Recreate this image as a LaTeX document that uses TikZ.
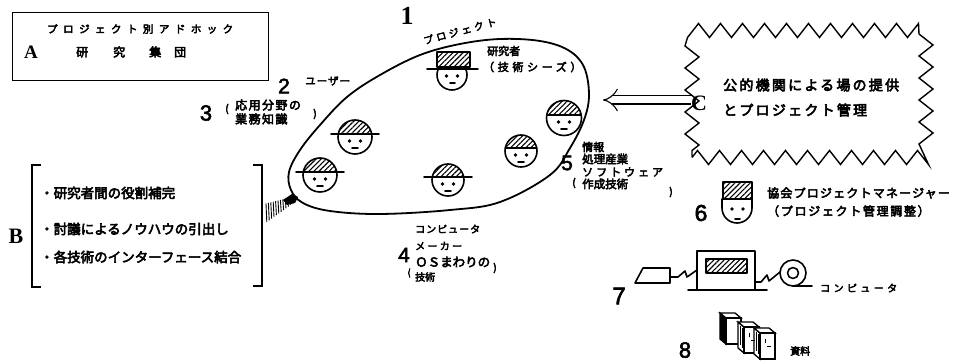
\documentclass[tikz,border=0pt]{standalone}
\usepackage{fontspec}
\setmainfont{Liberation Serif}
\newfontfamily\jp{Noto Sans CJK JP}[FakeBold=4]
\newfontfamily\digits{Liberation Sans}[FakeBold=2.5]
\usetikzlibrary{patterns.meta,decorations.pathmorphing,arrows.meta}
\newcommand\fsz[1]{\fontsize{#1}{#1}\selectfont}
\newcommand\lsp[1]{\addfontfeature{LetterSpace=#1}}

\begin{document}
\begin{tikzpicture}[x=1pt,y=-1pt,
  ln/.style={line width=1.6pt, line cap=round, line join=round},
  bx/.style={line width=1.3pt},
  hatch/.style={pattern={Lines[angle=45,distance=3.6pt,line width=1.1pt]}},
  txt/.style={inner sep=0pt, anchor=west},
  jts/.style 2 args={txt, font=\jp\fsz{#1}\lsp{#2}},
  dig/.style={inner sep=0pt, font=\digits\fsz{#1}},
  ltr/.style={inner sep=0pt, font=\bfseries\fsz{#1}},
  pics/face/.style 2 args={code={
    \begin{scope}
      \clip (-#1-1,-3) rectangle (#1+1,-#1-1);
      \fill[hatch] (0,0) circle[radius=#1pt];
    \end{scope}
    \draw[ln] (0,0) circle[radius=#1pt];
    \draw[ln] (-#2,-3) -- (#2,-3);
    \fill (-5.5,4) circle[radius=1.8pt];
    \fill (5.5,4) circle[radius=1.8pt];
    \draw[ln] (-3,11) -- (3,11);
  }},
  pics/book/.style={code={
    \draw[bx, fill=#1] (0,0) -- (-6,-5) -- (-6,21) -- (0,26) -- cycle;
    \draw[bx, fill=white] (0,0) -- (-6,-5) -- (9,-5) -- (15,0) -- cycle;
    \draw[bx, fill=white] (0,0) rectangle (15,26);
  }}
]
\path[use as bounding box] (0,0) rectangle (954,363);

% ---- A: ad hoc research group ----
\node[draw, bx, minimum width=256pt, minimum height=68pt, inner sep=0pt, anchor=north west] (boxA) at (12,12) {};
\node[jts={10.5}{52}] (adhoc) at (47,29) {プロジェクト別アドホック};
\node[ltr=19] (A) at (31,52) {A};
\node[jts={12}{0}] (group) at (76,52) {研\hspace{25pt}究\hspace{24pt}集\hspace{13pt}団};

% ---- the project (egg) ----
\draw[ln, line width=1.8pt] plot[smooth cycle, tension=0.6] coordinates {
  (289,172) (300,150) (320,125) (347,97) (380,75) (420,55) (460,44)
  (500,39) (540,41) (568,50) (584,67) (589,95) (584,120) (570,148)
  (550,175) (500,202) (450,210) (380,214) (330,211) (303,203) (291,190)};

\node[ltr=26] (n1) at (407,16) {1};
\node[jts={10}{30}, anchor=center, rotate=15] (proj) at (460,31) {プロジェクト};

% researcher with square cap
\fill[hatch] (437,52) rectangle (470,67);
\draw[ln] (437,52) rectangle (470,67);
\draw[ln] (427,69) -- (478,69);
\begin{scope}
  \clip (430,69) rectangle (475,95);
  \draw[ln] (452,75) circle[radius=15pt];
\end{scope}
\fill (446.5,76) circle[radius=1.8pt];
\fill (457.5,76) circle[radius=1.8pt];
\draw[ln] (450,83) -- (455,83);
\node[jts={11}{0}] (res) at (487,51) {研究者};
\node[jts={11}{33}] (seeds) at (483,67) {（技術シーズ）};

% members
\pic at (355,137) {face={17}{24}};
\pic at (320,175) {face={17}{24}};
\pic at (448,180) {face={16}{24}};
\pic at (521,151) {face={16}{15.7}};
\pic at (564,118) {face={17.5}{17.2}};

\node[dig=21] (n2) at (284,86) {2};
\node[jts={10.5}{10}] (user) at (305,81) {ユーザー};
\node[dig=22] (n3) at (206,113) {3};
\node[jts={10}{0}, anchor=center] (p3l) at (227,109) {(};
\node[jts={12}{12}] (app1) at (235,105) {応用分野の};
\node[jts={12}{12}] (app2) at (235,119) {業務知識};
\node[jts={10}{0}, anchor=center] (p3r) at (315,114) {)};

\node[dig=21] (n4) at (404,255) {4};
\node[jts={9}{0}, anchor=center] (p4l) at (409,273) {(};
\node[jts={10}{10}] (mk1) at (415,229) {コンピュータ};
\node[jts={10}{23}] (mk2) at (415,246) {メーカー};
\node[jts={12.5}{0}] (mk3) at (415,262) {ＯＳまわりの};
\node[jts={10}{0}, anchor=center] (p4r) at (495,268) {)};
\node[jts={10}{0}] (mk4) at (415,277) {技術};

\node[dig=21] (n5) at (567,163) {5};
\node[jts={11}{0}] (sw1) at (582,147) {情報};
\node[jts={11.5}{0}] (sw2) at (582,159) {処理産業};
\node[jts={11}{27}] (sw3) at (582,172) {ソフトウェア};
\node[jts={10}{0}, anchor=center] (p5l) at (574,183) {(};
\node[jts={11.5}{0}] (sw4) at (582,184) {作成技術};
\node[jts={10}{0}, anchor=center] (p5r) at (671,192) {)};

% ---- B: effects ----
\draw[bx] (41,165) -- (32,165) -- (32,287) -- (41,287);
\draw[bx] (253,165) -- (262,165) -- (262,286) -- (253,286);
\node[ltr=22] (B) at (16,236) {B};
\node[jts={13.5}{0}] (b1) at (40,193) {・研究者間の役割補完};
\node[jts={13.5}{0}] (b2) at (40,229) {・討議によるノウハウの引出し};
\node[jts={13.5}{0}] (b3) at (40,257) {・各技術のインターフェース結合};
\foreach \i in {0,...,12}
  \draw[line width=0.9pt] ({266+2.4*\i},{203.5-0.6*\i}) -- ({266.8+2.4*\i},{222-1.7*\i});
\fill (283,200) -- (292,194) -- (298,197) -- (295,203) -- (287,205) -- cycle;

% ---- C: public body ----
\node[draw, line width=1.4pt, decorate, decoration={zigzag, segment length=22pt, amplitude=7pt},
      minimum width=234pt, minimum height=127pt, inner sep=0pt] (cloud) at (809,94) {};
\node[ltr=22] (C) at (699,103) {C};
\node[jts={14}{16}] (c1) at (723,85) {公的機関による場の提供};
\node[jts={14}{16}] (c2) at (723,110) {とプロジェクト管理};
\coordinate (eggtip) at (603,100);
\draw[line width=1.1pt, double distance=7pt, -{Implies}] (C.west |- eggtip) -- (eggtip);

% ---- 6: association project manager ----
\fill[hatch] (723,182) rectangle (752,199);
\draw[ln] (723,182) rectangle (752,199);
\draw[ln] (722,199) -- (722,208) arc[start angle=180, end angle=360, radius=15pt] -- (752,199);
\fill (732,209) circle[radius=1.8pt];
\fill (743,209) circle[radius=1.8pt];
\draw[ln] (735,219) -- (740,219);
\node[dig=23] (n6) at (701,213) {6};
\node[jts={12}{10}] (pm1) at (767,193) {協会プロジェクトマネージャー};
\node[jts={12}{14}] (pm2) at (767,211) {（プロジェクト管理調整）};

% ---- 7: computer ----
\draw[ln] (635,283) -- (643,268) -- (670,268) -- (670,283) -- cycle;
\draw[ln] (670,277) -- (678,277) -- (685,271) -- (687,277) -- (697,270);
\draw[ln] (697,290) -- (697,251) -- (755,251) -- (755,290);
\draw[ln] (688,290) -- (767,290);
\fill[hatch] (706,259) rectangle (747,273);
\draw[ln] (706,259) rectangle (747,273);
\draw[ln] (755,282) -- (761,282) -- (767,275) -- (769,281) -- (780,272);
\draw[ln] (793,273) circle[radius=13pt];
\draw[ln] (793,273) circle[radius=5.5pt];
\draw[ln] (793,286) -- (812,286);
\node[dig=24] (n7) at (619,296) {7};
\node[jts={10}{34}] (comp) at (820,288) {コンピュータ};

% ---- 8: documents ----
\pic at (726,318) {book=black};
\pic at (744,327) {book=white};
\pic at (760,333) {book=white};
\draw[line width=0.8pt] (740,326) -- (740,345) (742,328) -- (742,348);
\draw[line width=0.8pt] (756,332) -- (756,351) (758,334) -- (758,354);
\draw[line width=1pt] (749,333) -- (749,337) (751,341) -- (755,341);
\draw[line width=1pt] (765,339) -- (765,343) (767,347) -- (771,347);
\node[dig=22] (n8) at (685,350) {8};
\node[jts={10}{0}] (docs) at (790,351) {資料};
\end{tikzpicture}
\end{document}
